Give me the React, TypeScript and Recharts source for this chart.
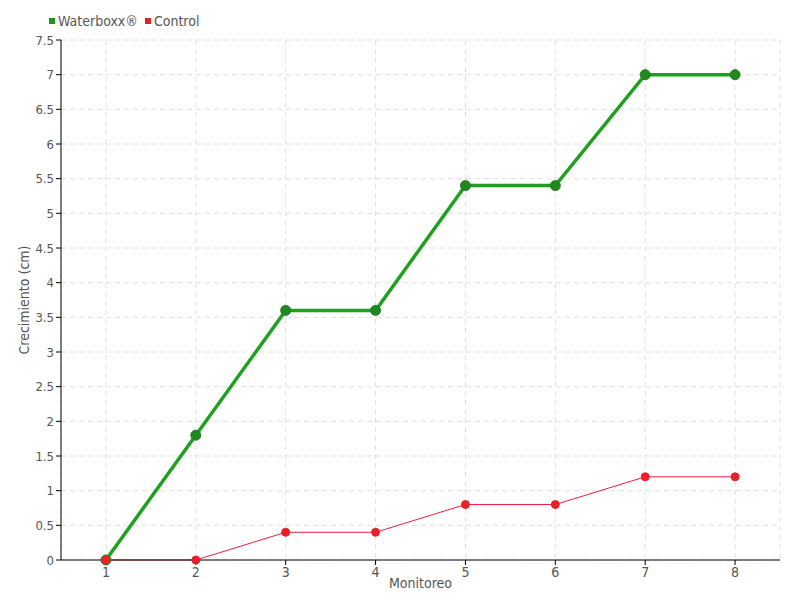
import React from 'react';
import { LineChart, Line, XAxis, YAxis, CartesianGrid, Legend } from 'recharts';

const categories = ['1', '2', '3', '4', '5', '6', '7', '8'];
const waterboxx = [0, 1.8, 3.6, 3.6, 5.4, 5.4, 7, 7];
const control = [0, 0, 0.4, 0.4, 0.8, 0.8, 1.2, 1.2];
const yTicks = [0, 0.5, 1, 1.5, 2, 2.5, 3, 3.5, 4, 4.5, 5, 5.5, 6, 6.5, 7, 7.5];

const data = categories.map((c, i) => ({ name: c, waterboxx: waterboxx[i], control: control[i] }));

const FONT = "'Liberation Sans Narrow', 'DejaVu Sans Condensed', sans-serif";

const LegendContent = () => (
  <div style={{ display: 'flex', alignItems: 'center', fontFamily: FONT, fontSize: 14, color: '#555', height: 20 }}>
    <span style={{ display: 'inline-block', width: 6, height: 6, background: '#1a9a1a', marginRight: 3 }} />
    <span style={{ marginRight: 7 }}>Waterboxx®</span>
    <span style={{ display: 'inline-block', width: 6, height: 6, background: '#e8202a', marginRight: 3 }} />
    <span>Control</span>
  </div>
);

export default function App() {
  return (
    <div style={{ position: 'absolute', left: 0, top: 0, width: 800, height: 600, background: '#fff' }}>
      <LineChart width={800} height={600} data={data} margin={{ top: 20, right: 20, bottom: 0, left: 0 }}>
        <Legend verticalAlign="top" align="left" content={<LegendContent />} wrapperStyle={{ top: 11, left: 49 }} height={20} />
        <CartesianGrid stroke="#e0e0e0" strokeDasharray="5 4" />
        <XAxis
          dataKey="name"
          scale="band"
          height={40}
          axisLine={{ stroke: '#000' }}
          tickLine={{ stroke: '#000' }}
          tick={{ fill: '#555', fontSize: 14, fontFamily: FONT }}
          tickSize={5}
          label={{ value: 'Monitoreo', position: 'insideBottom', offset: 12, fill: '#555', fontSize: 14, fontFamily: FONT, style: { fill: '#555' } }}
        />
        <YAxis
          width={61}
          domain={[0, 7.5]}
          ticks={yTicks}
          interval={0}
          axisLine={{ stroke: '#000' }}
          tickLine={{ stroke: '#000' }}
          tickSize={5}
          tick={{ fill: '#555', fontSize: 13, fontFamily: FONT }}
          label={{ value: 'Crecimiento (cm)', angle: -90, position: 'insideLeft', offset: 24, fill: '#555', fontSize: 14, fontFamily: FONT, style: { textAnchor: 'middle', fill: '#555' } }}
        />
        <Line
          type="linear"
          dataKey="waterboxx"
          stroke="#1fa01f"
          strokeWidth={3.5}
          dot={{ r: 5, fill: '#1d8a1d', stroke: '#2a7a2a', strokeWidth: 1 }}
          activeDot={false}
          isAnimationActive={false}
        />
        <Line
          type="linear"
          dataKey="control"
          stroke="#f0203a"
          strokeWidth={1}
          dot={{ r: 4, fill: '#e8202a', stroke: '#e8202a', strokeWidth: 1 }}
          activeDot={false}
          isAnimationActive={false}
        />
      </LineChart>
    </div>
  );
}
